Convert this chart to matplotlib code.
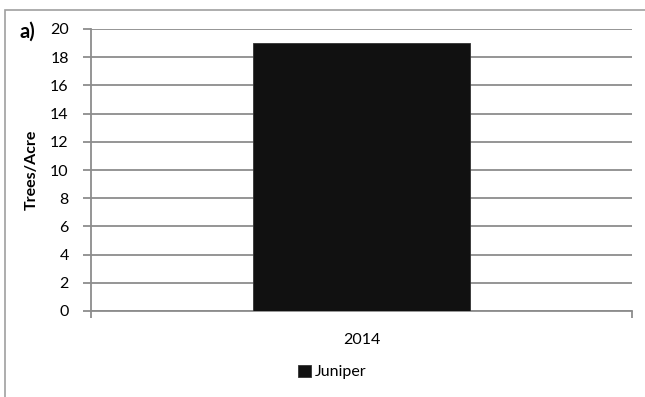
import matplotlib
matplotlib.use("Agg")
import matplotlib.pyplot as plt
from matplotlib.patches import Rectangle

categories = ["2014"]
juniper = [19]
yticks = [0, 2, 4, 6, 8, 10, 12, 14, 16, 18, 20]

plt.rcParams['font.family'] = ['Lato', 'DejaVu Sans']

W, H = 645, 397
fig = plt.figure(figsize=(W / 100, H / 100), dpi=100)

# outer chart frame (left and top edges)
fig.add_artist(Rectangle((5 / W, -0.1), 1.2, (H - 10) / H + 0.1, transform=fig.transFigure,
                         fill=False, edgecolor="#a0a0a0", linewidth=1.2))

ax = fig.add_axes([91 / W, 1 - 311 / H, (632 - 91) / W, (311 - 29) / H])
x = list(range(len(categories)))
ax.bar(x, juniper, width=0.4, color="#111111", edgecolor="#333333", linewidth=0.6,
       label="Juniper", zorder=3)
ax.set_xlim(-0.5, len(categories) - 0.5)
ax.set_ylim(0, 20)
ax.set_yticks(yticks)
ax.set_yticklabels([str(v) for v in yticks], fontsize=11.5)
ax.grid(axis="y", color="#8c8c8c", linewidth=1.3, zorder=0)
for s in ["top", "right"]:
    ax.spines[s].set_visible(False)
for s in ["left", "bottom"]:
    ax.spines[s].set_color("#8c8c8c")
    ax.spines[s].set_linewidth(1.3)
ax.tick_params(axis="y", length=6, width=1.3, color="#8c8c8c", pad=10)
ax.set_xticks([i - 0.5 for i in range(len(categories) + 1)], minor=False)
ax.set_xticklabels([])
ax.set_xticks(x, minor=True)
ax.set_xticklabels(categories, minor=True, fontsize=11.5)
ax.tick_params(axis="x", which="major", length=5, width=1.3, color="#8c8c8c", direction="out")
ax.tick_params(axis="x", which="minor", length=0, pad=16)
ax.set_ylabel("Trees/Acre", fontsize=11.5, fontweight="bold", labelpad=8)

fig.text(19 / W, 1 - 32 / H, "a)", fontsize=14.5, fontweight="bold", va="center", ha="left")

ax.legend(loc="center left", bbox_to_anchor=((284 - 91) / (632 - 91), (311 - 372) / (311 - 29)),
          frameon=False, fontsize=11.5, handlelength=0.8, handleheight=0.8, handletextpad=0.2)

fig.savefig("out.png", dpi=100)
